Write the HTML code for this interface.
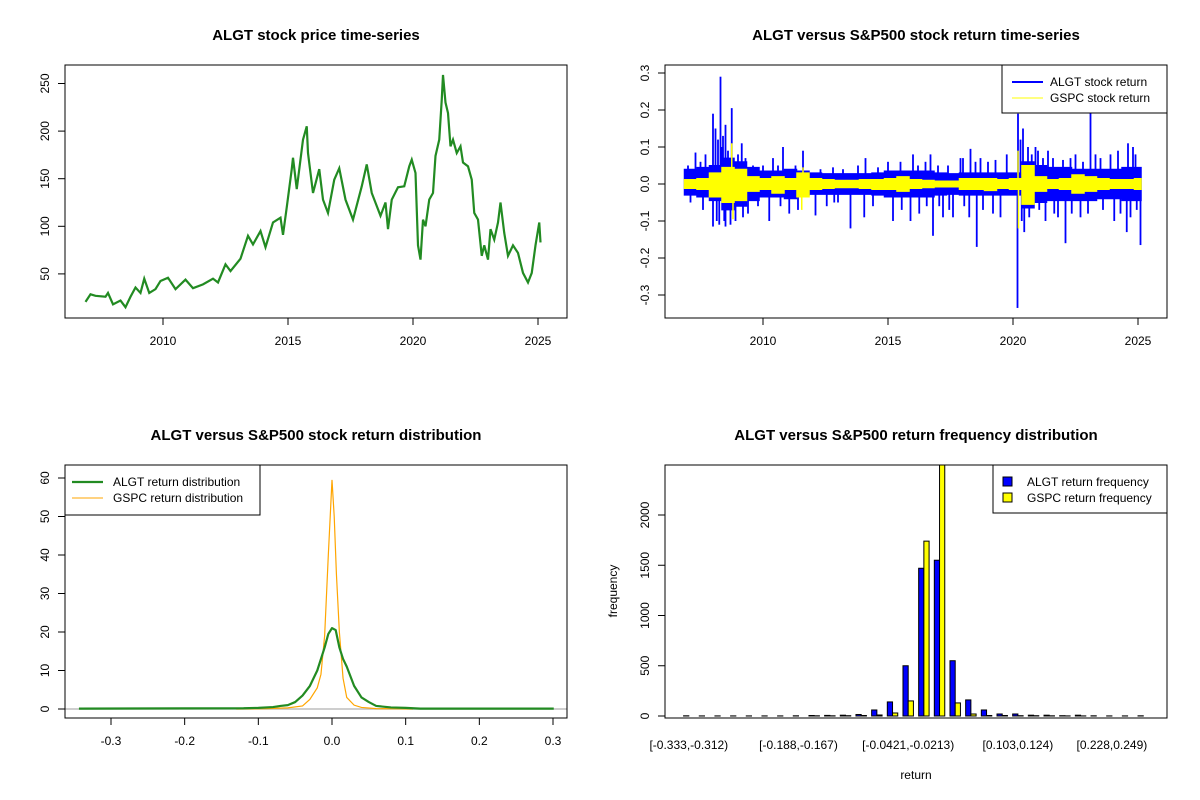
<!DOCTYPE html>
<html><head><meta charset="utf-8"><title>ALGT vs S&amp;P500</title>
<style>
html,body{margin:0;padding:0;background:#fff;}
svg{display:block;font-family:"Liberation Sans",Arial,sans-serif;}
</style></head>
<body>
<svg id="chart" width="1200" height="800" viewBox="0 0 1200 800" xmlns="http://www.w3.org/2000/svg">
<defs>
<clipPath id="c1"><rect x="65" y="65" width="502" height="253"/></clipPath>
<clipPath id="c2"><rect x="665" y="65" width="502" height="253"/></clipPath>
<clipPath id="c3"><rect x="65" y="465" width="502" height="253"/></clipPath>
<clipPath id="c4"><rect x="665" y="465" width="502" height="253"/></clipPath>
</defs>
</svg>
<script>
// ---------- data ----------
const priceYears = [2006.9,2007.1,2007.3,2007.7,2007.8,2008.0,2008.3,2008.5,2008.7,2008.9,2009.1,2009.25,2009.45,2009.7,2009.9,2010.2,2010.5,2010.9,2011.2,2011.6,2012.0,2012.2,2012.5,2012.7,2013.1,2013.4,2013.6,2013.9,2014.1,2014.4,2014.7,2014.8,2014.95,2015.15,2015.2,2015.35,2015.6,2015.75,2015.8,2015.9,2016.0,2016.25,2016.4,2016.6,2016.85,2017.05,2017.3,2017.6,2017.95,2018.15,2018.35,2018.7,2018.9,2019.0,2019.15,2019.4,2019.65,2019.85,2019.95,2020.1,2020.2,2020.3,2020.4,2020.5,2020.65,2020.8,2020.9,2021.05,2021.15,2021.2,2021.3,2021.4,2021.5,2021.6,2021.75,2021.9,2022.0,2022.2,2022.35,2022.45,2022.6,2022.75,2022.85,2023.0,2023.1,2023.25,2023.4,2023.5,2023.65,2023.8,2024.0,2024.2,2024.4,2024.6,2024.75,2024.9,2025.05,2025.1];
const priceValues = [20.6,28.6,27,26,30,18,22,15,26,35.7,30,45,30,34,42.6,46,34,44,35,39,45,41,60,53,66,90,81,95,78,104,109,91,120,160,172,139,191,205,177,156,135,160,128,114,149,161,128,107,142,165,135,111,125,97,128,141,142,163,170,156,80,65,107,100,128,135,174,191,233,259,230,219,184,191,177,184,167,163,149,114,107,69,80,65,97,86,104,125,93,69,80,72,51,41,51,80,104,83];

const bandStart = 2006.85;
const bandStep = 0.5;
const algtHi = [4,4.5,5,7,6,4.5,3.5,3.5,4,3.5,3,2.8,2.8,2.8,2.8,3,3.5,3.5,3.5,3.5,3,2.8,3,3,3,3,3,6,5,4.5,4.5,4,4,4,4,4.5,4.5];
const algtLo = [-3,-3.5,-4.5,-7,-6,-4.5,-3.5,-3.5,-4,-3,-2.8,-2.8,-2.8,-2.8,-2.8,-3,-3.5,-3.5,-3.5,-3.5,-3,-2.8,-3,-3,-3,-3,-3,-6.5,-5,-4.5,-4.5,-4.5,-4.5,-4,-4,-4.5,-4.5];
const gspcHi = [1.2,1.5,3,4.5,4,2,1.5,2,1.5,3,1.5,1.2,1,1,1.2,1.2,1.5,2,1.2,1,0.8,0.8,1.5,1.5,1.5,1.2,1.5,5,2,1.2,1.5,2.5,2,1.5,1.2,1.2,1.5];
const gspcLo = [-1.2,-1.5,-3.5,-5,-4.5,-2,-1.5,-2.5,-1.5,-3.5,-1.5,-1.2,-1,-1,-1.2,-1.5,-1.5,-2,-1.2,-1,-0.8,-0.8,-1.5,-1.5,-1.8,-1.2,-1.5,-5.5,-2,-1.2,-1.5,-2.5,-2,-1.5,-1.2,-1.2,-1.5];
const algtSpikeYears = [2007.3,2007.7,2008.0,2008.0,2008.1,2008.3,2008.25,2008.4,2008.5,2008.5,2008.7,2008.75,2008.9,2009.15,2009.2,2010.4,2010.25,2010.8,2011.05,2011.6,2012.1,2012.55,2013.5,2014.05,2014.1,2015.2,2015.9,2016.0,2016.7,2016.8,2017.2,2017.6,2017.9,2018.25,2018.3,2018.55,2018.7,2019.5,2019.75,2020.2,2020.18,2020.4,2020.45,2020.9,2021.4,2022.1,2023.1,2022.5,2024.6,2024.55,2025.1,2024.8,2021.8,2021.3,2024.05,2023.3,2024.7,
 2007.0,2007.5,2008.2,2008.35,2008.6,2009.0,2009.3,2009.6,2010.0,2010.6,2011.3,2012.3,2012.8,2013.2,2013.8,2014.6,2015.0,2015.5,2016.2,2016.5,2017.0,2017.4,2018.0,2018.5,2019.0,2019.3,2020.3,2020.6,2020.75,2021.0,2021.2,2021.6,2022.0,2022.3,2022.8,2023.5,2023.9,2024.2,2024.9,
 2007.1,2007.6,2008.15,2008.45,2009.4,2009.8,2010.7,2011.4,2012.85,2013.0,2014.4,2015.55,2016.25,2016.55,2017.05,2017.45,2018.05,2018.8,2019.2,2020.35,2020.65,2021.05,2021.65,2022.35,2022.7,2023.0,2023.6,2024.3,2024.95];
const algtSpikeValues = [0.085,0.08,0.19,-0.115,0.15,0.29,-0.11,0.13,0.16,-0.115,-0.11,0.205,-0.1,0.11,-0.09,0.07,-0.1,0.1,-0.08,0.09,-0.085,-0.06,-0.12,-0.09,0.07,-0.1,-0.1,0.08,0.08,-0.14,-0.09,-0.09,0.07,-0.09,0.095,-0.17,0.07,-0.09,0.08,0.19,-0.335,0.15,-0.13,0.1,0.09,-0.16,0.2,0.08,0.11,-0.13,-0.165,0.1,-0.09,-0.1,-0.1,0.08,-0.09,
 0.05,0.06,0.12,0.1,0.09,0.08,0.07,0.05,0.05,0.05,0.05,0.04,0.045,0.04,0.05,0.045,0.06,0.06,0.05,0.06,0.05,0.05,0.07,0.06,0.06,0.065,0.12,0.1,0.08,0.09,0.07,0.07,0.065,0.07,0.06,0.07,0.08,0.09,0.08,
 -0.05,-0.07,-0.1,-0.1,-0.08,-0.06,-0.06,-0.07,-0.05,-0.05,-0.06,-0.07,-0.08,-0.06,-0.06,-0.07,-0.06,-0.07,-0.08,-0.1,-0.09,-0.07,-0.08,-0.08,-0.09,-0.08,-0.07,-0.08,-0.07];
const gspcSpikeYears = [2008.75,2008.8,2011.6,2011.55,2020.2,2020.22];
const gspcSpikeValues = [0.11,-0.095,0.045,-0.07,0.09,-0.12];

const densAlgtX = [-0.3435,-0.12,-0.1,-0.08,-0.07,-0.06,-0.05,-0.04,-0.03,-0.02,-0.01,-0.005,0,0.005,0.01,0.015,0.02,0.03,0.04,0.05,0.06,0.08,0.1,0.12,0.301];
const densAlgtY = [0.1,0.2,0.3,0.5,0.8,1.0,1.8,3.5,6,10,16,19.5,21,20.5,16,13,11,6,3,1.8,0.8,0.4,0.3,0.1,0.1];
const densGspcX = [-0.13,-0.09,-0.06,-0.04,-0.03,-0.02,-0.015,-0.01,-0.005,0,0.003,0.006,0.01,0.015,0.02,0.03,0.04,0.06,0.09,0.11];
const densGspcY = [0,0.1,0.3,0.8,2.5,5.5,9,19,40,59.5,50,35,20,8,3,1,0.4,0.1,0.05,0];

const algtFreq = [2,1,1,1,1,1,1,2,5,6,8,15,60,140,500,1470,1550,550,160,60,20,20,8,8,3,8,2,1,1,2];
const gspcFreq = [0,0,0,0,0,0,0,0,2,2,3,5,10,30,150,1740,2600,130,20,5,5,3,3,2,1,1,0,0,0,0];
const binLabelIdx = [0,7,14,21,27];
const binLabels = ["[-0.333,-0.312)","[-0.188,-0.167)","[-0.0421,-0.0213)","[0.103,0.124)","[0.228,0.249)"];

const yearTicks = [2010,2015,2020,2025];
const priceTicks = [50,100,150,200,250];
const retTicks = [-0.3,-0.2,-0.1,0,0.1,0.2,0.3];
const retTickLabels = ["-0.3","-0.2","-0.1","0.0","0.1","0.2","0.3"];
const densTicks = [0,10,20,30,40,50,60];
const freqTicks = [0,500,1000,1500,2000];

// ---------- scales ----------
const p1x = yr => 163 + (yr - 2010) * 25;
const p1y = v => 321.5 - v * 0.952;
const p2x = yr => 763 + (yr - 2010) * 25;
const p2y = r => 184 - r * 370;
const p3x = r => 332 + r * 736.7;
const p3y = d => 709 - d * 3.85;
const p4x = i => 683.6 + i * 15.67;
const p4y = f => 716 - f * 0.1005;

const NS = "http://www.w3.org/2000/svg";
const svg = document.getElementById("chart");
function mk(tag, attrs, parent) {
  const e = document.createElementNS(NS, tag);
  for (const k in attrs) e.setAttribute(k, attrs[k]);
  (parent || svg).appendChild(e);
  return e;
}
function txt(s, attrs, parent) { const e = mk("text", attrs, parent); e.textContent = s; return e; }

function panelBox(x, y, name) {
  const r = mk("rect", {x:x, y:y, width:502, height:253, fill:"none", stroke:"#000", "stroke-width":1});
  
  
}
function xAxis(ticks, labels, fx, yb, name) {
  const g = mk("g", {});
  
  
  mk("line", {x1:fx(ticks[0]), x2:fx(ticks[ticks.length-1]), y1:yb, y2:yb, stroke:"#000"}, g);
  ticks.forEach((t, i) => {
    mk("line", {x1:fx(t), x2:fx(t), y1:yb, y2:yb+7, stroke:"#000"}, g);
    const l = txt(labels[i], {x:fx(t), y:yb+27, "text-anchor":"middle", "font-size":12}, g);
    
    
  });
}
function yAxis(ticks, labels, fy, xl, name) {
  const g = mk("g", {});
  
  
  mk("line", {x1:xl, x2:xl, y1:fy(ticks[0]), y2:fy(ticks[ticks.length-1]), stroke:"#000"}, g);
  ticks.forEach((t, i) => {
    mk("line", {x1:xl-7, x2:xl, y1:fy(t), y2:fy(t), stroke:"#000"}, g);
    const l = txt(labels[i], {x:0, y:0, "text-anchor":"middle", "font-size":12, transform:`translate(${xl-16},${fy(t)}) rotate(-90)`}, g);
    
    
  });
}

// ---------- Panel 1: price ----------
let t;
t = txt("ALGT stock price time-series", {x:316, y:40, "text-anchor":"middle", "font-size":15, "font-weight":"bold"});


const g1 = mk("g", {"clip-path":"url(#c1)"});


const pl = mk("polyline", {points: priceYears.map((y,i)=>p1x(y)+","+p1y(priceValues[i])).join(" "), fill:"none", stroke:"#228B22", "stroke-width":2.2, "stroke-linejoin":"miter"}, g1);


panelBox(65, 65, 'price-plot-box');
xAxis(yearTicks, yearTicks.map(String), p1x, 318, 'price-x-axis');
yAxis(priceTicks, priceTicks.map(String), p1y, 65, 'price-y-axis');

// ---------- Panel 2: returns ----------
t = txt("ALGT versus S&P500 stock return time-series", {x:916, y:40, "text-anchor":"middle", "font-size":15, "font-weight":"bold"});


const g2 = mk("g", {"clip-path":"url(#c2)"});


function bandPath(hi, lo, fx, fy) {
  const endYear = 2025.13;
  let top = [], bot = [];
  hi.forEach((h, i) => {
    const a = bandStart + i*bandStep, b = Math.min(endYear, a + bandStep);
    top.push(fx(a)+","+fy(h/100), fx(b)+","+fy(h/100));
  });
  lo.forEach((l, i) => {
    const a = bandStart + i*bandStep, b = Math.min(endYear, a + bandStep);
    bot.push(fx(a)+","+fy(l/100), fx(b)+","+fy(l/100));
  });
  return "M" + top.join(" L") + " L" + bot.reverse().join(" L") + " Z";
}
const ab = mk("path", {d: bandPath(algtHi, algtLo, p2x, p2y), fill:"#0000FF", stroke:"#0000FF", "stroke-width":1}, g2);


algtSpikeYears.forEach((y, i) => {
  const s = mk("line", {x1:p2x(y), x2:p2x(y), y1:p2y(0), y2:p2y(algtSpikeValues[i]), stroke:"#0000FF", "stroke-width":1.8}, g2);
  
  
});
const gb = mk("path", {d: bandPath(gspcHi, gspcLo, p2x, p2y), fill:"#FFFF00", stroke:"#FFFF00", "stroke-width":1}, g2);


gspcSpikeYears.forEach((y, i) => {
  const s = mk("line", {x1:p2x(y), x2:p2x(y), y1:p2y(0), y2:p2y(gspcSpikeValues[i]), stroke:"#FFFF00", "stroke-width":1.5}, g2);
  
  
});
panelBox(665, 65, 'return-plot-box');
xAxis(yearTicks, yearTicks.map(String), p2x, 318, 'return-x-axis');
yAxis(retTicks, retTickLabels, p2y, 665, 'return-y-axis');
const lg2 = mk("g", {});


mk("rect", {x:1002, y:65, width:165, height:48, fill:"#fff", stroke:"#000"}, lg2);
mk("line", {x1:1012, x2:1043, y1:82, y2:82, stroke:"#0000FF", "stroke-width":2}, lg2);
mk("line", {x1:1012, x2:1043, y1:98, y2:98, stroke:"#FFFF00", "stroke-width":1}, lg2);
t = txt("ALGT stock return", {x:1050, y:86, "font-size":12}, lg2);


t = txt("GSPC stock return", {x:1050, y:102, "font-size":12}, lg2);



// ---------- Panel 3: density ----------
t = txt("ALGT versus S&P500 stock return distribution", {x:316, y:440, "text-anchor":"middle", "font-size":15, "font-weight":"bold"});


const g3 = mk("g", {"clip-path":"url(#c3)"});


const zl = mk("line", {x1:65, x2:567, y1:p3y(0), y2:p3y(0), stroke:"#BEBEBE", "stroke-width":1.5}, g3);


const dg = mk("polyline", {points: densGspcX.map((x,i)=>p3x(x)+","+p3y(densGspcY[i])).join(" "), fill:"none", stroke:"#FFA500", "stroke-width":1.2}, g3);


const da = mk("polyline", {points: densAlgtX.map((x,i)=>p3x(x)+","+p3y(densAlgtY[i])).join(" "), fill:"none", stroke:"#228B22", "stroke-width":2.2, "stroke-linejoin":"round"}, g3);


panelBox(65, 465, 'distribution-plot-box');
xAxis(retTicks, retTickLabels, p3x, 718, 'distribution-x-axis');
yAxis(densTicks, densTicks.map(String), p3y, 65, 'distribution-y-axis');
const lg3 = mk("g", {});


mk("rect", {x:65, y:465, width:195, height:50, fill:"#fff", stroke:"#000"}, lg3);
mk("line", {x1:72, x2:103, y1:482, y2:482, stroke:"#228B22", "stroke-width":2.2}, lg3);
mk("line", {x1:72, x2:103, y1:498, y2:498, stroke:"#FFA500", "stroke-width":1}, lg3);
t = txt("ALGT return distribution", {x:113, y:486, "font-size":12}, lg3);


t = txt("GSPC return distribution", {x:113, y:502, "font-size":12}, lg3);



// ---------- Panel 4: histogram ----------
t = txt("ALGT versus S&P500 return frequency distribution", {x:916, y:440, "text-anchor":"middle", "font-size":15, "font-weight":"bold"});


const g4 = mk("g", {"clip-path":"url(#c4)"});


const bw = 5.22;
algtFreq.forEach((f, i) => {
  const b = mk("rect", {x:p4x(i), y:p4y(f), width:bw, height:Math.max(0, p4y(0)-p4y(f)), fill:"#0000FF", stroke:"#000", "stroke-width":1}, g4);
  
  
});
gspcFreq.forEach((f, i) => {
  const b = mk("rect", {x:p4x(i)+bw, y:p4y(f), width:bw, height:Math.max(0, p4y(0)-p4y(f)), fill:"#FFFF00", stroke:"#000", "stroke-width":1}, g4);
  
  
});
panelBox(665, 465, 'frequency-plot-box');
yAxis(freqTicks, freqTicks.map(String), p4y, 665, 'frequency-y-axis');
binLabelIdx.forEach((idx, k) => {
  const l = txt(binLabels[k], {x:p4x(idx)+bw, y:749, "text-anchor":"middle", "font-size":12});
  
  
});
t = txt("return", {x:916, y:779, "text-anchor":"middle", "font-size":12});


t = txt("frequency", {x:0, y:0, "text-anchor":"middle", "font-size":12, transform:"translate(617,591) rotate(-90)"});


const lg4 = mk("g", {});


mk("rect", {x:993, y:465, width:174, height:48, fill:"#fff", stroke:"#000"}, lg4);
mk("rect", {x:1003, y:477, width:9, height:9, fill:"#0000FF", stroke:"#000"}, lg4);
mk("rect", {x:1003, y:493, width:9, height:9, fill:"#FFFF00", stroke:"#000"}, lg4);
t = txt("ALGT return frequency", {x:1027, y:486, "font-size":12}, lg4);


t = txt("GSPC return frequency", {x:1027, y:502, "font-size":12}, lg4);


</script>
</body></html>
